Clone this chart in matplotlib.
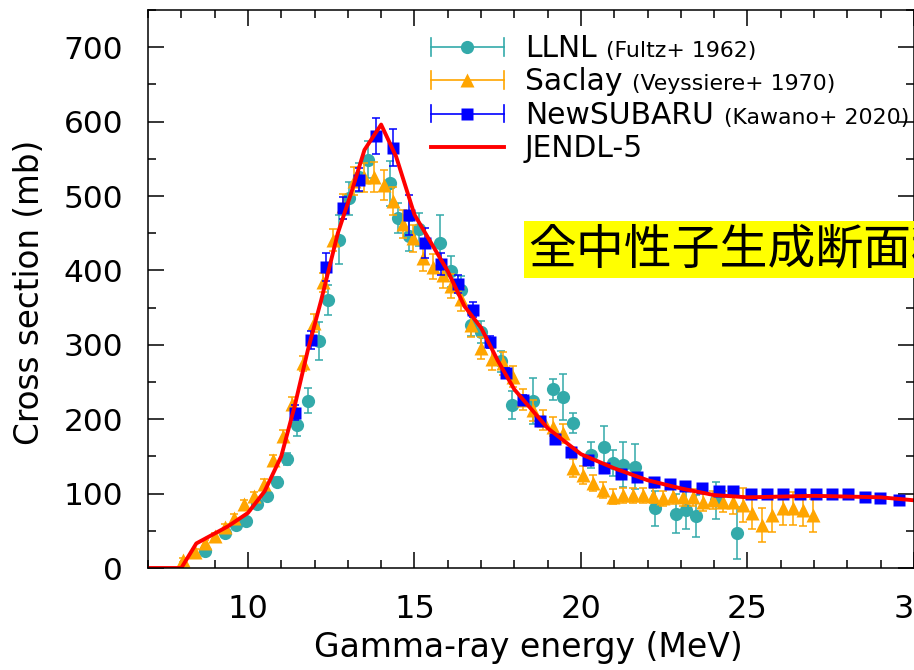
import matplotlib
matplotlib.use("Agg")
import matplotlib.pyplot as plt
from matplotlib.lines import Line2D
from matplotlib.legend_handler import HandlerLine2D
from matplotlib.ticker import MultipleLocator

# JENDL-5 evaluation
jendl_e = [7.0, 8.0, 8.45, 9.4, 10.0, 10.5, 11.0, 11.4, 11.8, 12.2, 12.7, 13.1, 13.5,
           14.0, 14.45, 15.0, 16.0, 16.5, 17.0, 17.5, 18.0, 19.0, 20.0, 21.0, 22.0,
           23.0, 24.0, 25.0, 26.0, 27.0, 28.0, 29.0, 30.0]
jendl_y = [0, 0, 33, 56, 74, 103, 150, 217, 293, 360, 450, 504, 562,
           596, 553, 475, 399, 352, 323, 279, 240, 188, 153, 134, 118,
           107, 98, 95, 96, 97, 96, 95, 91]

# LLNL (Fultz+ 1962)
llnl_e = [8.72, 9.32, 9.65, 9.95, 10.28, 10.57, 10.88, 11.18, 11.48, 11.80, 12.12, 12.40,
          12.72, 13.05, 13.33, 13.62, 14.27, 14.52, 14.83, 15.15, 15.76, 16.11, 16.41,
          16.71, 17.01, 17.61, 17.94, 18.56, 19.16, 19.46, 19.76, 20.31, 20.68, 20.96,
          21.26, 21.61, 22.21, 22.84, 23.14, 23.44, 24.06, 24.68]
llnl_y = [23, 47, 58, 63, 86, 97, 116, 147, 192, 225, 305, 360,
          441, 497, 525, 549, 517, 470, 446, 455, 437, 399, 374,
          327, 317, 278, 219, 224, 240, 230, 195, 152, 162, 141,
          139, 136, 80, 73, 78, 70, 91, 47]
llnl_err = [4, 4, 4, 5, 5, 6, 6, 8, 14, 17, 25, 20,
            33, 22, 20, 25, 30, 20, 20, 22, 37, 21, 18,
            15, 15, 14, 19, 31, 14, 31, 13, 18, 29, 18,
            30, 30, 24, 26, 25, 28, 25, 35]

# Saclay (Veyssiere+ 1970)
saclay_e = [8.05, 8.4, 8.7, 9.0, 9.3, 9.58, 9.87, 10.17, 10.47, 10.75, 11.05, 11.33,
            11.65, 11.97, 12.25, 12.55, 12.87, 13.18, 13.48, 13.78, 14.08, 14.35, 14.65,
            14.95, 15.26, 15.56, 15.86, 16.11, 16.41, 16.71, 17.01, 17.34, 17.66, 17.96,
            18.26, 18.56, 18.86, 19.16, 19.46, 19.76, 20.06, 20.36, 20.66, 20.96, 21.26,
            21.56, 21.86, 22.16, 22.46, 22.76, 23.06, 23.36, 23.66, 23.96, 24.26, 24.56,
            24.86, 25.14, 25.44, 25.74, 26.06, 26.36, 26.66, 26.96]
saclay_y = [11, 22, 33, 43, 55, 67, 86, 97, 113, 145, 178, 221,
            275, 329, 384, 441, 486, 520, 525, 526, 515, 493, 462,
            443, 417, 405, 394, 379, 361, 327, 296, 281, 275, 257,
            226, 212, 199, 190, 181, 134, 125, 114, 105, 96, 98,
            98, 98, 97, 94, 97, 95, 95, 89, 91, 89, 89,
            85, 74, 58, 71, 80, 80, 78, 71]
saclay_err = [3, 3, 4, 4, 4, 5, 5, 5, 6, 7, 8, 9,
              10, 12, 13, 15, 17, 19, 20, 20, 20, 19, 19,
              18, 18, 17, 17, 16, 16, 16, 15, 15, 15, 14,
              14, 14, 13, 13, 13, 12, 12, 11, 11, 10, 10,
              10, 10, 10, 10, 11, 11, 11, 12, 12, 14, 16,
              23, 22, 23, 23, 22, 22, 22, 22]

# NewSUBARU (Kawano+ 2020)
subaru_e = [11.4, 11.9, 12.35, 12.85, 13.33, 13.85, 14.35, 14.83, 15.33, 15.81, 16.31,
            16.76, 17.26, 17.76, 18.26, 18.76, 19.21, 19.71, 20.21, 20.69, 21.19, 21.69,
            22.19, 22.68, 23.13, 23.63, 24.13, 24.58, 25.1, 25.58, 26.06, 26.58, 27.06,
            27.53, 28.03, 28.53, 28.98, 29.56]
subaru_y = [209, 306, 405, 484, 522, 581, 565, 475, 437, 409, 382,
            347, 304, 262, 226, 197, 174, 156, 145, 135, 127, 122,
            116, 113, 110, 107, 104, 103, 100, 100, 100, 100, 100,
            100, 99, 96, 94, 91]
subaru_err = [10, 12, 19, 15, 15, 24, 25, 27, 20, 15, 12,
              10, 8, 7, 6, 6, 5, 5, 4, 4, 4, 4,
              4, 3, 3, 3, 3, 3, 3, 3, 3, 3, 3,
              3, 3, 3, 3, 3]

labels = ["LLNL", "Saclay", "NewSUBARU", "JENDL-5"]
refs = ["(Fultz+ 1962)", "(Veyssiere+ 1970)", "(Kawano+ 2020)", ""]

TEAL = "#33aaaa"
ORANGE = "#ffa500"
BLUE = "#0000ff"
RED = "#ff0000"


class CapLine(HandlerLine2D):
    # gnuplot style key: |--o--|
    def create_artists(self, legend, orig_handle, xdescent, ydescent, width, height, fontsize, trans):
        arts = super().create_artists(legend, orig_handle, xdescent, ydescent, width, height, fontsize, trans)
        y = (height - ydescent) / 2.0
        h = height * 0.43
        for x in (-xdescent, -xdescent + width):
            arts.append(Line2D([x, x], [y - h, y + h], color=orig_handle.get_color(),
                               lw=orig_handle.get_linewidth(), transform=trans))
        return arts


plt.rcParams['font.family'] = ['DejaVu Sans']
fig = plt.figure(figsize=(9.14, 6.70), dpi=100)
ax = fig.add_axes([148 / 914, 102 / 670, 1 - 148 / 914, 558 / 670])

kw = dict(fmt='none', elinewidth=1.1, capsize=3, capthick=1.1)
ax.errorbar(llnl_e, llnl_y, yerr=llnl_err, ecolor=TEAL, **kw)
ax.plot(llnl_e, llnl_y, 'o', color=TEAL, ms=9.5, mec='none')
ax.errorbar(saclay_e, saclay_y, yerr=saclay_err, ecolor=ORANGE, **kw)
ax.plot(saclay_e, saclay_y, '^', color=ORANGE, ms=9.5, mec='none')
ax.errorbar(subaru_e, subaru_y, yerr=subaru_err, ecolor=BLUE, **kw)
ax.plot(subaru_e, subaru_y, 's', color=BLUE, ms=9, mec='none')
ax.plot(jendl_e, jendl_y, '-', color=RED, lw=2.8)

ax.set_xlim(7, 30)
ax.set_ylim(0, 750)
ax.xaxis.set_major_locator(MultipleLocator(5))
ax.xaxis.set_minor_locator(MultipleLocator(1))
ax.yaxis.set_major_locator(MultipleLocator(100))
ax.yaxis.set_minor_locator(MultipleLocator(50))
ax.tick_params(which='both', direction='in', top=True, right=True, width=1.1)
ax.tick_params(which='major', length=11.5)
ax.tick_params(which='minor', length=5.8)
ax.tick_params(axis='x', labelsize=23, pad=19)
ax.tick_params(axis='y', labelsize=22.5, pad=18)
ax.set_yticks(range(0, 701, 100))
for s in ax.spines.values():
    s.set_linewidth(1.1)

handles = [Line2D([], [], color=TEAL, marker='o', ms=9.5, mec='none', lw=1.2),
           Line2D([], [], color=ORANGE, marker='^', ms=9.5, mec='none', lw=1.2),
           Line2D([], [], color=BLUE, marker='s', ms=9, mec='none', lw=1.2),
           Line2D([], [], color=RED, lw=2.8)]
leg = ax.legend(handles, labels, loc='upper left', bbox_to_anchor=(0.3695, 0.957),
                frameon=False, borderpad=0, borderaxespad=0, fontsize=21.4,
                handlelength=2.45, handletextpad=0.7, labelspacing=0.15,
                handler_map={h: CapLine() for h in handles[:3]})

fig.text(528 / 914, 1 - 249.5 / 670, "全中性子生成断面積", fontsize=34.5,
         family=['Noto Sans CJK JP', 'DejaVu Sans'], ha='left', va='center',
         bbox=dict(boxstyle='square,pad=0.08', fc='#ffff00', ec='none'))

fig.text(30 / 914, 1 - 292 / 670, "Cross section (mb)", fontsize=23.5,
         rotation=90, ha='center', va='center')
fig.text(528 / 914, 1 - 648 / 670, "Gamma-ray energy (MeV)", fontsize=23.8,
         ha='center', va='center')

# small reference tags after the legend labels (placed once layout is known)
fig.canvas.draw()
for txt, ref in zip(leg.get_texts(), refs):
    if ref:
        bb = txt.get_window_extent()
        fig.text(bb.x1 + 10, bb.y0 + 2, ref, transform=None, fontsize=15.8,
                 ha='left', va='bottom')

fig.savefig("out.png", dpi=100)
